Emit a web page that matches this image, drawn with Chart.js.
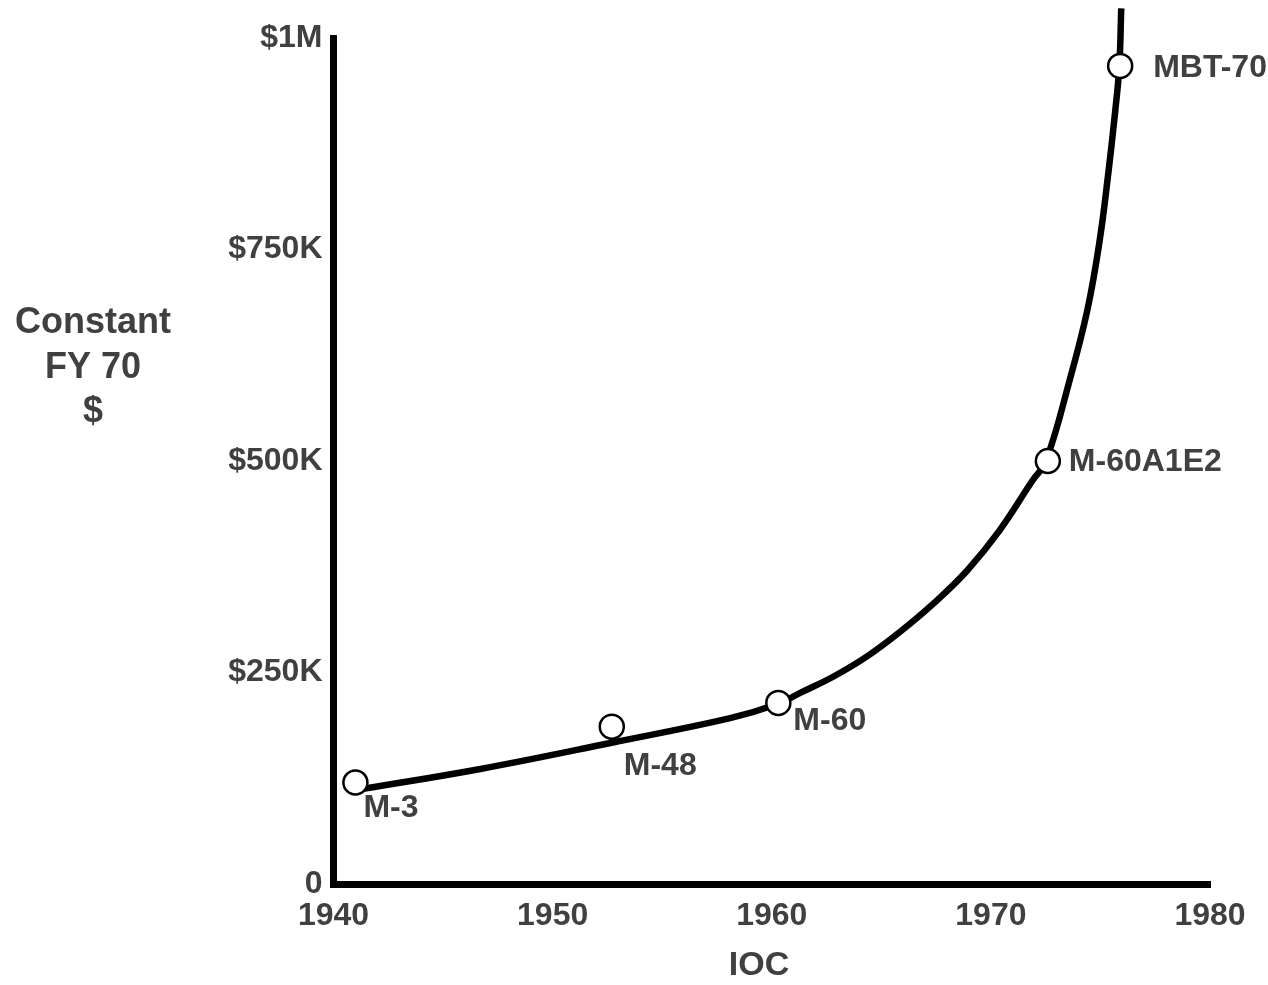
<!DOCTYPE html>
<html><head><meta charset="utf-8">
<script src="https://cdn.jsdelivr.net/npm/chart.js@4/dist/chart.umd.min.js"></script>
<style>html,body{margin:0;padding:0;background:#fff;}canvas{display:block;}</style>
</head><body>
<canvas id="c" width="1268" height="985"></canvas>
<script>
// ---- data ----
const tankNames = ['M-3', 'M-48', 'M-60', 'M-60A1E2', 'MBT-70'];
const tankYears = [1941.0, 1952.7, 1960.3, 1972.6, 1975.9];
const tankCosts = [120000, 186000, 214000, 500000, 967000];

const curveYears = [1941.0, 1946.7, 1952.7, 1958.1, 1960.3, 1961.3, 1962.8, 1964.4, 1965.9, 1967.4, 1968.9, 1970.4, 1971.9, 1972.5, 1973.6, 1974.4, 1974.95, 1975.34, 1975.68, 1975.86, 1975.95];
const curveCosts = [111000, 136000, 167000, 196000, 213000, 226000, 245000, 270000, 299000, 332000, 370000, 418000, 477000, 499000, 596000, 678000, 758000, 836000, 915000, 966000, 1035000];

const xTickValues = [1940, 1950, 1960, 1970, 1980];
const xTickLabels = ['1940', '1950', '1960', '1970', '1980'];
const yTickValues = [0, 250000, 500000, 750000, 1000000];
const yTickLabels = ['0', '$250K', '$500K', '$750K', '$1M'];
const yTitleLines = ['Constant', 'FY 70', '$'];
const xTitleText = 'IOC';

// ---- styling ----
const FONT = '"Liberation Sans", Arial, Helvetica, sans-serif';
const TEXT = '#404040';
const labelOffsets = [[8, 26], [12, 40], [15, 18], [21, 1], [33, 2]]; // px offsets of name labels from markers

const annotate = {
  id: 'annotate',
  afterDatasetsDraw(chart) {
    const ctx = chart.ctx, xs = chart.scales.x, ys = chart.scales.y;
    ctx.save();
    ctx.fillStyle = TEXT;
    ctx.font = 'bold 32px ' + FONT;
    ctx.textAlign = 'left';
    ctx.textBaseline = 'middle';
    tankNames.forEach((n, i) => {
      const px = xs.getPixelForValue(tankYears[i]);
      const py = ys.getPixelForValue(tankCosts[i]);
      ctx.fillText(n, px + labelOffsets[i][0], py + labelOffsets[i][1]);
    });
    // y title (horizontal, multi-line)
    ctx.textAlign = 'center';
    ctx.font = 'bold 36px ' + FONT;
    const yMid = 368, lh = 44.5;
    yTitleLines.forEach((t, i) => {
      ctx.fillText(t, 93, yMid + (i - 1) * lh);
    });
    // x title
    ctx.font = 'bold 34px ' + FONT;
    ctx.fillText(xTitleText, 759, 966);
    ctx.restore();
  }
};

new Chart(document.getElementById('c'), {
  type: 'scatter',
  data: {
    datasets: [
      {
        label: 'tanks',
        data: tankYears.map((x, i) => ({x, y: tankCosts[i]})),
        showLine: false,
        pointRadius: 12,
        pointHoverRadius: 12,
        pointBackgroundColor: '#ffffff',
        pointBorderColor: '#000000',
        pointBorderWidth: 2.5,
        clip: false
      },
      {
        label: 'trend',
        data: curveYears.map((x, i) => ({x, y: curveCosts[i]})),
        showLine: true,
        borderColor: '#000000',
        borderWidth: 6.5,
        pointRadius: 0,
        tension: 0.4,
        borderCapStyle: 'butt',
        borderJoinStyle: 'round',
        clip: false
      }
    ]
  },
  options: {
    responsive: false,
    animation: false,
    layout: { padding: { top: 38, right: 58, bottom: 0, left: 0 } },
    plugins: { legend: { display: false }, tooltip: { enabled: false }, title: { display: false } },
    scales: {
      x: {
        type: 'linear', min: 1940, max: 1980,
        afterFit(s) { s.height = 101; },
        afterBuildTicks(s) { s.ticks = xTickValues.map(v => ({value: v})); },
        grid: { display: false, drawTicks: false },
        border: { display: true, color: '#000', width: 7 },
        ticks: {
          padding: 13, maxRotation: 0, autoSkip: false,
          color: TEXT, font: { family: FONT, size: 32, weight: 'bold' },
          callback: (v) => { const k = xTickValues.indexOf(v); return k >= 0 ? xTickLabels[k] : ''; }
        }
      },
      y: {
        type: 'linear', min: 0, max: 1000000,
        afterFit(s) { s.width = 333.5; },
        afterBuildTicks(s) { s.ticks = yTickValues.map(v => ({value: v})); },
        grid: { display: false, drawTicks: false },
        border: { display: true, color: '#000', width: 7 },
        ticks: {
          padding: 11, autoSkip: false,
          color: TEXT, font: { family: FONT, size: 32, weight: 'bold' },
          callback: (v) => { const k = yTickValues.indexOf(v); return k >= 0 ? yTickLabels[k] : ''; }
        }
      }
    }
  },
  plugins: [annotate]
});
</script>
</body></html>
